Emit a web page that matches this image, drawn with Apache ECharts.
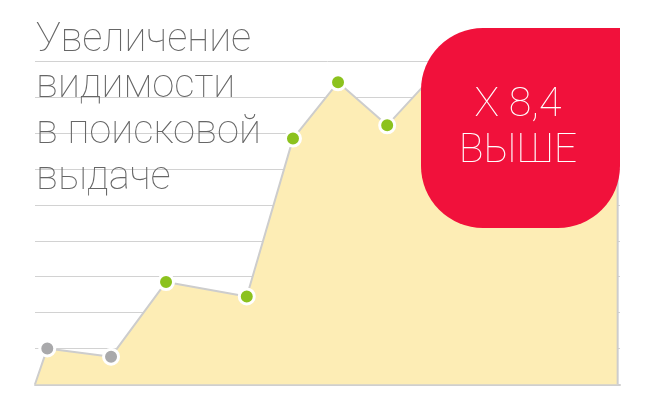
<!DOCTYPE html>
<html><head><meta charset="utf-8">
<script src="https://cdn.jsdelivr.net/npm/echarts@6/dist/echarts.min.js"></script>
<style>html,body{margin:0;padding:0;background:#fff}#c{width:656px;height:411px}</style>
</head><body><div id="c"></div>
<script>
const titleLines = ["Увеличение", "видимости", "в поисковой", "выдаче"];
const badgeLines = ["X 8,4", "ВЫШЕ"];
const xPositions = [0, 2.1, 13.0, 22.4, 36.2, 44.1, 51.8, 60.2, 68, 80, 99.6, 99.6];
const values     = [0, 1.0, 0.77, 2.85, 2.45, 6.85, 8.42, 7.22, 8.6, 8.9, 8.4, 0];
const pointKinds = ["none", "gray", "gray", "green", "green", "green", "green", "green", "green", "green", "none", "none"];
const kindColors = { gray: "#a9a9ab", green: "#8cc21e" };

const chart = echarts.init(document.getElementById('c'), null, { renderer: 'canvas' });
const data = xPositions.map((x, i) => {
  const k = pointKinds[i];
  if (k === "none") return { value: [x, values[i]], symbol: 'none' };
  return { value: [x, values[i]], itemStyle: { color: kindColors[k], borderColor: '#fff', borderWidth: 3 } };
});

chart.setOption({
  animation: false,
  title: {
    text: titleLines.join('\n'),
    left: 36, top: 16, padding: 0,
    textStyle: { fontFamily: 'Roboto', fontWeight: 250, fontSize: 40, lineHeight: 46, color: '#666666' }
  },
  grid: { left: 35, right: 36, top: 61.5, bottom: 26.7 },
  xAxis: {
    type: 'value', min: 0, max: 100,
    axisLabel: { show: false }, axisTick: { show: false }, splitLine: { show: false },
    axisLine: { show: true, lineStyle: { color: '#cfcfcf', width: 2 } }
  },
  yAxis: {
    type: 'value', min: 0, max: 9, interval: 1,
    axisLabel: { show: false }, axisTick: { show: false }, axisLine: { show: false },
    splitLine: { show: true, lineStyle: { color: '#d2d2d2', width: 1 } }
  },
  series: [{
    type: 'line',
    data: data,
    symbol: 'circle',
    symbolSize: 15,
    lineStyle: { color: '#cdcdcd', width: 2 },
    areaStyle: { color: '#fdedb5', opacity: 1 },
    z: 2
  }],
  graphic: [
    {
      type: 'rect', z: 100,
      shape: { x: 421, y: 28, width: 199, height: 200, r: [62, 0, 62, 62] },
      style: { fill: '#f1113b' }
    },
    {
      type: 'text', z: 101,
      style: {
        x: 518, y: 129, text: badgeLines.join('\n'),
        fill: '#fff', font: '100 41px Roboto', lineHeight: 46,
        align: 'center', verticalAlign: 'middle'
      }
    }
  ]
});
</script></body></html>
